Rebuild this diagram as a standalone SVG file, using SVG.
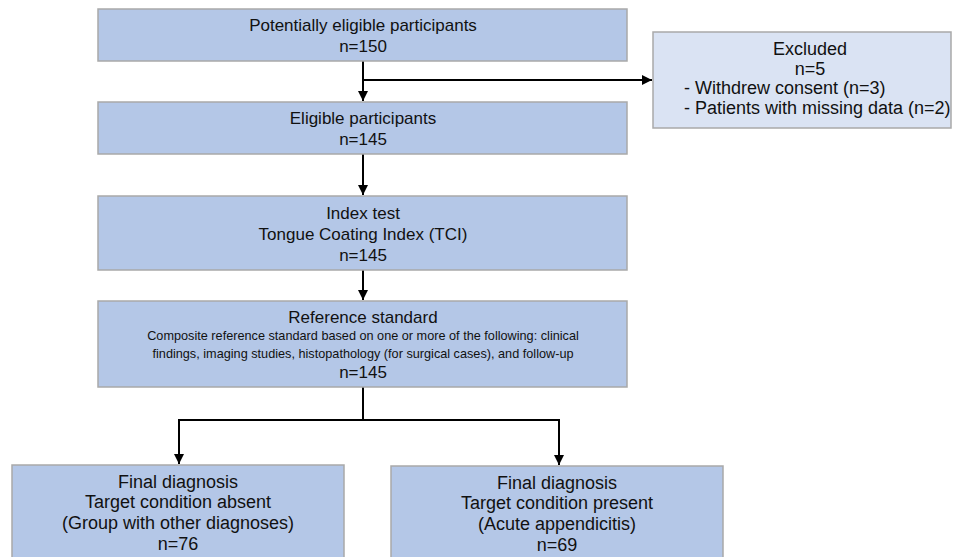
<svg xmlns="http://www.w3.org/2000/svg" width="954" height="557" viewBox="0 0 954 557">
<defs>
<style>
.box{fill:#b4c7e7;stroke:#a9a9a9;stroke-width:1.5}
.exc{fill:#dae3f3;stroke:#a9a9a9;stroke-width:1.5}
.t{font-family:"Liberation Sans",Arial,sans-serif;font-size:17px;fill:#111;text-anchor:middle}
.s{font-size:12.7px}
.b{font-size:18px}
.l{text-anchor:start}
.c{fill:none;stroke:#000;stroke-width:2}
</style>
<marker id="ah" viewBox="0 0 10 10" refX="10" refY="5" markerWidth="5" markerHeight="5" orient="auto" markerUnits="strokeWidth">
<path d="M0,0 L10,5 L0,10 z" fill="#000"/>
</marker>
</defs>
<rect width="954" height="557" fill="#fff"/>
<g id="connectors">
<path class="c" d="M363,61 V101" marker-end="url(#ah)"/>
<path class="c" d="M363,80 H652" marker-end="url(#ah)"/>
<path class="c" d="M363,154 V195" marker-end="url(#ah)"/>
<path class="c" d="M363,270 V300" marker-end="url(#ah)"/>
<path class="c" d="M363,387 V420"/>
<path class="c" d="M179,464 V420 H559 V465" marker-end="url(#ah)"/>
<path class="c" d="M179,420 V464" marker-end="url(#ah)"/>
</g>
<g id="potential">
<rect class="box" x="98" y="9" width="529" height="52"/>
<text class="t" x="363" y="31">Potentially eligible participants</text>
<text class="t" x="363" y="52">n=150</text>
</g>
<g id="excluded">
<rect class="exc" x="653" y="32" width="298" height="96"/>
<text class="t b" x="810" y="55">Excluded</text>
<text class="t b" x="810" y="75">n=5</text>
<text class="t b l" x="684" y="94">- Withdrew consent (n=3)</text>
<text class="t b l" x="684" y="114">- Patients with missing data (n=2)</text>
</g>
<g id="eligible">
<rect class="box" x="98" y="102" width="529" height="52"/>
<text class="t" x="363" y="124">Eligible participants</text>
<text class="t" x="363" y="145">n=145</text>
</g>
<g id="index">
<rect class="box" x="98" y="196" width="529" height="74"/>
<text class="t" x="363" y="219">Index test</text>
<text class="t" x="363" y="240">Tongue Coating Index (TCI)</text>
<text class="t" x="363" y="261">n=145</text>
</g>
<g id="reference">
<rect class="box" x="98" y="301" width="529" height="86"/>
<text class="t" x="363" y="323">Reference standard</text>
<text class="t s" x="363" y="340">Composite reference standard based on one or more of the following: clinical</text>
<text class="t s" x="363" y="358">findings, imaging studies, histopathology (for surgical cases), and follow-up</text>
<text class="t" x="363" y="378">n=145</text>
</g>
<g id="absent">
<rect class="box" x="12" y="465" width="332" height="96"/>
<text class="t b" x="178" y="488">Final diagnosis</text>
<text class="t b" x="178" y="508">Target condition absent</text>
<text class="t b" x="178" y="529">(Group with other diagnoses)</text>
<text class="t b" x="178" y="550">n=76</text>
</g>
<g id="present">
<rect class="box" x="391" y="466" width="332" height="96"/>
<text class="t b" x="557" y="489">Final diagnosis</text>
<text class="t b" x="557" y="509">Target condition present</text>
<text class="t b" x="557" y="530">(Acute appendicitis)</text>
<text class="t b" x="557" y="551">n=69</text>
</g>
</svg>
